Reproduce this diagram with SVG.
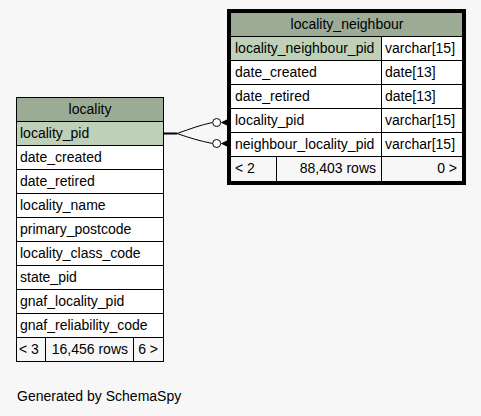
<svg xmlns="http://www.w3.org/2000/svg" width="481" height="416" viewBox="0 0 481 416">
<style>
text{font-family:"Liberation Sans",Arial,sans-serif;font-size:14px;fill:#000}
.c{text-anchor:middle}
.e{text-anchor:end}
.cell{stroke:#000;stroke-width:1;shape-rendering:crispEdges}
.hd{fill:#9bab96}
.pk{fill:#bed1b8}
.bd{fill:#fff}
.ft{fill:#f7f7f7}
.ln{fill:none;stroke:#000;stroke-width:1}
</style>
<rect x="0" y="0" width="481" height="416" fill="#f7f7f7"/>
<g id="locality">
<rect class="cell hd" x="16.5" y="97.5" width="147" height="24"/>
<text class="c" x="90" y="114">locality</text>
<rect class="cell pk" x="16.5" y="121.5" width="147" height="24"/>
<text x="20" y="138">locality_pid</text>
<rect class="cell bd" x="16.5" y="145.5" width="147" height="24"/>
<text x="20" y="162">date_created</text>
<rect class="cell bd" x="16.5" y="169.5" width="147" height="24"/>
<text x="20" y="186">date_retired</text>
<rect class="cell bd" x="16.5" y="193.5" width="147" height="24"/>
<text x="20" y="210">locality_name</text>
<rect class="cell bd" x="16.5" y="217.5" width="147" height="24"/>
<text x="20" y="234">primary_postcode</text>
<rect class="cell bd" x="16.5" y="241.5" width="147" height="24"/>
<text x="20" y="258">locality_class_code</text>
<rect class="cell bd" x="16.5" y="265.5" width="147" height="24"/>
<text x="20" y="282">state_pid</text>
<rect class="cell bd" x="16.5" y="289.5" width="147" height="24"/>
<text x="20" y="306">gnaf_locality_pid</text>
<rect class="cell bd" x="16.5" y="313.5" width="147" height="24"/>
<text x="20" y="330">gnaf_reliability_code</text>
<rect class="cell ft" x="16.5" y="337.5" width="29" height="24"/>
<rect class="cell ft" x="45.5" y="337.5" width="88" height="24"/>
<rect class="cell ft" x="133.5" y="337.5" width="30" height="24"/>
<text x="19" y="354">&lt; 3</text>
<text class="e" x="128" y="354">16,456 rows</text>
<text class="e" x="158" y="354">6 &gt;</text>
</g>
<g id="locality_neighbour">
<rect x="228.5" y="10.5" width="236" height="173" fill="#fff" stroke="#000" stroke-width="3"/>
<line x1="227.5" y1="9" x2="227.5" y2="185" stroke="#000" stroke-width="1"/>
<rect class="cell hd" x="230.5" y="12.5" width="232" height="24"/>
<text class="c" x="347" y="29">locality_neighbour</text>
<rect class="cell pk" x="230.5" y="36.5" width="151" height="24"/>
<rect class="cell bd" x="381.5" y="36.5" width="81" height="24"/>
<text x="235" y="53">locality_neighbour_pid</text>
<text x="385" y="53">varchar[15]</text>
<rect class="cell bd" x="230.5" y="60.5" width="151" height="24"/>
<rect class="cell bd" x="381.5" y="60.5" width="81" height="24"/>
<text x="235" y="77">date_created</text>
<text x="385" y="77">date[13]</text>
<rect class="cell bd" x="230.5" y="84.5" width="151" height="24"/>
<rect class="cell bd" x="381.5" y="84.5" width="81" height="24"/>
<text x="235" y="101">date_retired</text>
<text x="385" y="101">date[13]</text>
<rect class="cell bd" x="230.5" y="108.5" width="151" height="24"/>
<rect class="cell bd" x="381.5" y="108.5" width="81" height="24"/>
<text x="235" y="125">locality_pid</text>
<text x="385" y="125">varchar[15]</text>
<rect class="cell bd" x="230.5" y="132.5" width="151" height="24"/>
<rect class="cell bd" x="381.5" y="132.5" width="81" height="24"/>
<text x="235" y="149">neighbour_locality_pid</text>
<text x="385" y="149">varchar[15]</text>
<rect class="cell ft" x="230.5" y="156.5" width="46" height="25"/>
<rect class="cell ft" x="276.5" y="156.5" width="105" height="25"/>
<rect class="cell ft" x="381.5" y="156.5" width="81" height="25"/>
<text x="235" y="173">&lt; 2</text>
<text class="e" x="376" y="173">88,403 rows</text>
<text class="e" x="457" y="173">0 &gt;</text>
</g>
<g id="connectors">
<line x1="163" y1="133.5" x2="177" y2="133.5" stroke="#000" stroke-width="2"/>
<path class="ln" d="M177,133.5 C190,129 200,125 212.5,122.5"/>
<path class="ln" d="M177,133.5 C190,138 200,141 212.5,143.5"/>
<circle cx="216.7" cy="122.5" r="4" fill="#fff" stroke="#000" stroke-width="1"/>
<circle cx="216.7" cy="143.5" r="4" fill="#fff" stroke="#000" stroke-width="1"/>
<polygon points="220.7,122.5 228,119 228,126" fill="#000"/>
<polygon points="220.7,143.5 228,140 228,147" fill="#000"/>
</g>
<text x="17" y="401">Generated by SchemaSpy</text>
</svg>
